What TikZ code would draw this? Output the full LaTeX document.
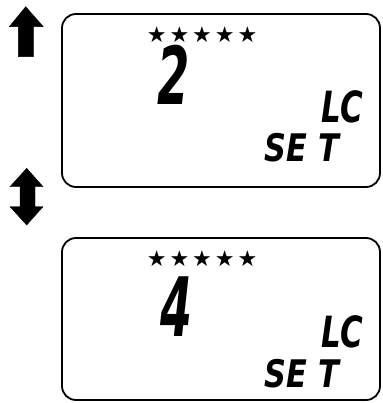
\documentclass[tikz,border=0pt]{standalone}
\usepackage{fontspec}
\usepackage{graphicx}
\newfontfamily\lcdfont{DejaVu Sans}
\newfontfamily\symfont{DejaVu Sans}
\newcommand{\lcdtext}[3]{{\lcdfont\bfseries\itshape\fontsize{#1}{#1}\selectfont\scalebox{#2}[1]{#3}}}
\begin{document}
\begin{tikzpicture}[x=1pt,y=-1pt]
\tikzset{
  panel/.style={draw, line width=1.8pt, rounded corners=14pt},
  arrowfill/.style={fill=black, draw=black, line width=0.4pt},
  lcd/.style={inner sep=0pt, anchor=base west},
  starrow/.style={inner sep=0pt, anchor=center, font=\symfont\fontsize{22}{22}\selectfont}
}
\useasboundingbox (0,0) rectangle (382,403);
% panels
\draw[panel] (62,14) rectangle (380,187);
\draw[panel] (62,238) rectangle (380,400);
% up arrow
\fill[arrowfill] (25.7,6.7) -- (43.3,26.7) -- (33.3,26.7) -- (33.3,56.7) -- (18.3,56.7) -- (18.3,26.7) -- (9.3,26.7) -- cycle;
% double arrow
\fill[arrowfill] (26.7,168.3) -- (43,186.7) -- (35,186.7) -- (35,206.7) -- (43,206.7) -- (26.7,225) -- (10,206.7) -- (20,206.7) -- (20,186.7) -- (10,186.7) -- cycle;
% stars
\foreach \i/\y in {a/35, b/259}{
  \foreach \k in {0,...,4}{
    \node[starrow] (s\i\k) at (156.7+22.7*\k,\y) {★};
  }
}
% panel 1 texts
\node[lcd] (d1) at (157,105) {\lcdtext{80}{0.58}{2}};
\node[lcd] (lc1) at (321,123) {\lcdtext{43}{0.72}{LC}};
\node[lcd] (set1) at (264,162) {\lcdtext{38}{0.8}{SE\hspace{15pt}T}};
% panel 2 texts
\node[lcd] (d2) at (160,336) {\lcdtext{82}{0.56}{4}};
\node[lcd] (lc2) at (321,347) {\lcdtext{43}{0.72}{LC}};
\node[lcd] (set2) at (264,387) {\lcdtext{38}{0.8}{SE\hspace{15pt}T}};
\end{tikzpicture}
\end{document}
